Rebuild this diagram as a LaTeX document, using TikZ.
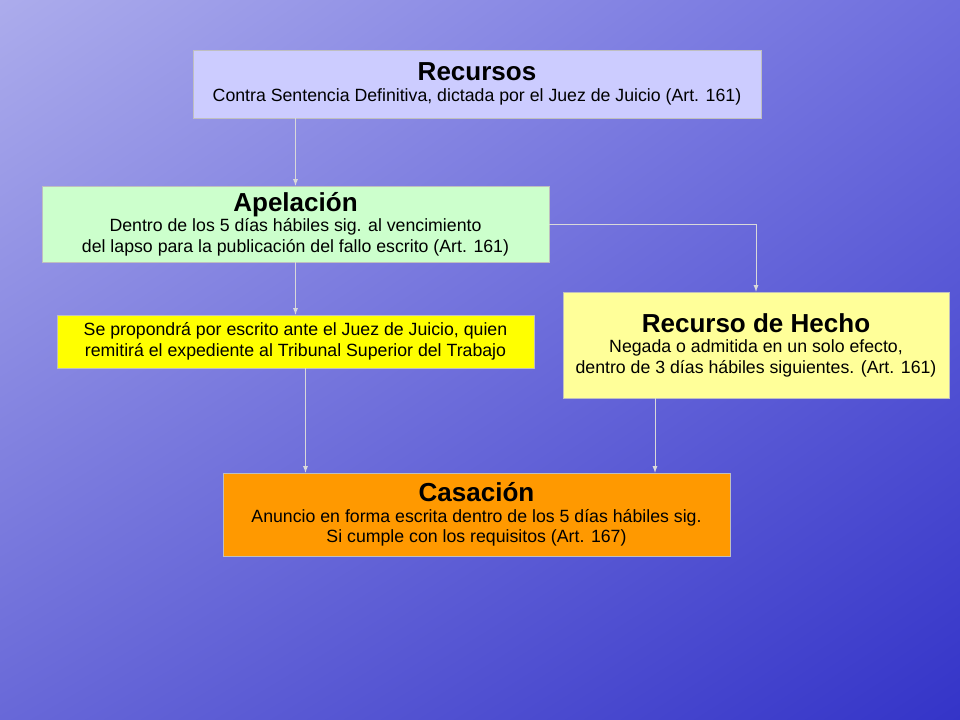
\documentclass[tikz,border=0pt]{standalone}
\usepackage{fontspec}
\setmainfont{Liberation Sans}
\usetikzlibrary{shadings}
\definecolor{bgtl}{RGB}{172,172,236}
\definecolor{bgtr}{RGB}{110,110,222}
\definecolor{bgbl}{RGB}{104,104,216}
\definecolor{bgbr}{RGB}{52,52,200}
\definecolor{lila}{RGB}{204,204,255}
\definecolor{verde}{RGB}{204,255,204}
\definecolor{amarillo}{RGB}{255,255,0}
\definecolor{crema}{RGB}{255,255,153}
\definecolor{naranja}{RGB}{255,153,0}
\begin{document}
\begin{tikzpicture}[x=0.025cm, y=-0.025cm,
       every node/.style={draw=gray!50, fill=white, align=center, inner sep=1pt,
             font=\fontsize{12.6}{14.6}\selectfont},
       flecha/.style={->, >=latex, draw=gray!30, line width=0.6pt}]
\shade[upper left=bgtl, upper right=bgtr, lower left=bgbl, lower right=bgbr]
    (0,0) rectangle (960,720);
\useasboundingbox (0,0) rectangle (960,720);
\node[fill=lila, minimum width=568*0.025cm, minimum height=68*0.025cm] (recursos) at (477,84)
    {{\fontsize{18.5}{21}\selectfont\bfseries Recursos}\\
     Contra Sentencia Definitiva, dictada por el Juez de Juicio (Art. 161)};
\node[fill=verde, minimum width=507*0.025cm, minimum height=76*0.025cm] (apelacion) at (295.5,224)
    {{\fontsize{18.5}{21}\selectfont\bfseries Apelación}\\
     Dentro de los 5 días hábiles sig. al vencimiento\\
     del lapso para la publicación del fallo escrito (Art. 161)};
\node[fill=amarillo, minimum width=477*0.025cm, minimum height=53*0.025cm] (propuesta) at (295.5,341.5)
    {Se propondrá por escrito ante el Juez de Juicio, quien\\
     remitirá el expediente al Tribunal Superior del Trabajo};
\node[fill=crema, minimum width=386*0.025cm, minimum height=106*0.025cm] (hecho) at (756,345)
    {{\fontsize{18.5}{21}\selectfont\bfseries Recurso de Hecho}\\
     Negada o admitida en un solo efecto,\\
     dentro de 3 días hábiles siguientes. (Art. 161)};
\node[fill=naranja, minimum width=507*0.025cm, minimum height=83*0.025cm] (casacion) at (476.5,514.5)
    {{\fontsize{18.5}{21}\selectfont\bfseries Casación}\\
     Anuncio en forma escrita dentro de los 5 días hábiles sig.\\
     Si cumple con los requisitos (Art. 167)};
% conectores
\draw[flecha] (apelacion.north |- recursos.south) -- (apelacion.north);
\draw[flecha] (apelacion.south) -- (propuesta.north);
\draw[flecha] (apelacion.east) -| (hecho.north);
\draw[flecha] ([xshift=10*0.025cm]propuesta.south) -- ([xshift=10*0.025cm]propuesta.south |- casacion.north);
\draw[flecha] ([xshift=-101*0.025cm]hecho.south) -- ([xshift=-101*0.025cm]hecho.south |- casacion.north);
\end{tikzpicture}
\end{document}
